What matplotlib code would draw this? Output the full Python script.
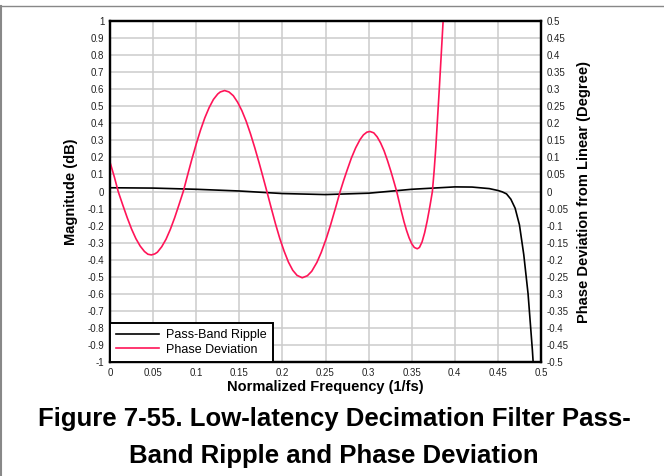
import numpy as np
import matplotlib
matplotlib.use("Agg")
import matplotlib.pyplot as plt
from matplotlib.lines import Line2D

plt.rcParams['font.family'] = ['Liberation Sans', 'DejaVu Sans']

# pass-band ripple (dB)
mag_freq = [0.0, 0.05, 0.1, 0.15, 0.2, 0.25, 0.3, 0.35, 0.4, 0.42, 0.44, 0.45,
            0.455, 0.46, 0.465, 0.47, 0.475, 0.48, 0.485, 0.49, 0.4915]
mag_db = [0.022, 0.02, 0.013, 0.003, -0.012, -0.018, -0.01, 0.013, 0.027, 0.026,
          0.017, 0.006, -0.002, -0.014, -0.045, -0.098, -0.196, -0.37, -0.6, -0.93, -1.05]

# phase deviation from linear (degree)
ph_freq = [0.0, 0.005, 0.0095, 0.015, 0.02, 0.025, 0.03, 0.035, 0.04, 0.044, 0.048,
           0.052, 0.055, 0.06, 0.065, 0.07, 0.075, 0.08, 0.085,
           0.09, 0.095, 0.1, 0.105, 0.11, 0.115, 0.12, 0.125, 0.128, 0.133,
           0.138, 0.143, 0.148, 0.153, 0.158, 0.163, 0.168, 0.173, 0.177, 0.182,
           0.187, 0.192, 0.197, 0.202, 0.207, 0.212, 0.217, 0.223,
           0.229, 0.234, 0.24, 0.245, 0.251, 0.256, 0.262, 0.267,
           0.271, 0.275, 0.28, 0.285, 0.29, 0.294, 0.298, 0.3016,
           0.306, 0.31, 0.314, 0.318, 0.322, 0.326, 0.329, 0.3326,
           0.335, 0.338, 0.341, 0.344, 0.347, 0.35, 0.353, 0.3565,
           0.359, 0.362, 0.365, 0.368, 0.371, 0.374,
           0.376, 0.378, 0.38, 0.382, 0.384, 0.386, 0.388, 0.39]
ph_deg = [0.086, 0.043, 0.0, -0.041, -0.077, -0.11, -0.138, -0.16, -0.176, -0.184, -0.186,
          -0.183, -0.178, -0.162, -0.14, -0.111, -0.077, -0.039, 0.0,
          0.048, 0.095, 0.139, 0.18, 0.216, 0.246, 0.27, 0.286, 0.292, 0.296,
          0.292, 0.281, 0.262, 0.237, 0.206, 0.169, 0.128, 0.084, 0.047, 0.0,
          -0.048, -0.095, -0.138, -0.175, -0.207, -0.231, -0.246, -0.253,
          -0.247, -0.234, -0.208, -0.179, -0.137, -0.097, -0.045, 0.0,
          0.032, 0.062, 0.098, 0.128, 0.152, 0.166, 0.174, 0.176,
          0.172, 0.16, 0.142, 0.119, 0.09, 0.058, 0.032, 0.0,
          -0.026, -0.058, -0.088, -0.114, -0.136, -0.153, -0.164, -0.168,
          -0.164, -0.148, -0.121, -0.086, -0.045, 0.0,
          0.06, 0.13, 0.215, 0.3, 0.39, 0.48, 0.57, 0.66]

x_ticks = [0, 0.05, 0.1, 0.15, 0.2, 0.25, 0.3, 0.35, 0.4, 0.45, 0.5]
x_labels = ['0', '0.05', '0.1', '0.15', '0.2', '0.25', '0.3', '0.35', '0.4', '0.45', '0.5']
left_ticks = [1, 0.9, 0.8, 0.7, 0.6, 0.5, 0.4, 0.3, 0.2, 0.1, 0,
              -0.1, -0.2, -0.3, -0.4, -0.5, -0.6, -0.7, -0.8, -0.9, -1]
left_labels = ['1', '0.9', '0.8', '0.7', '0.6', '0.5', '0.4', '0.3', '0.2', '0.1', '0',
               '-0.1', '-0.2', '-0.3', '-0.4', '-0.5', '-0.6', '-0.7', '-0.8', '-0.9', '-1']
right_ticks = [0.5, 0.45, 0.4, 0.35, 0.3, 0.25, 0.2, 0.15, 0.1, 0.05, 0,
               -0.05, -0.1, -0.15, -0.2, -0.25, -0.3, -0.35, -0.4, -0.45, -0.5]
right_labels = ['0.5', '0.45', '0.4', '0.35', '0.3', '0.25', '0.2', '0.15', '0.1', '0.05', '0',
                '-0.05', '-0.1', '-0.15', '-0.2', '-0.25', '-0.3', '-0.35', '-0.4', '-0.45', '-0.5']

pink = "#ff1458"

fig = plt.figure(figsize=(6.64, 4.76), dpi=100)
ax = fig.add_axes([110 / 664, 1 - 362 / 476, 431 / 664, 341 / 476])
ax2 = ax.twinx()

ax.set_xlim(0, 0.5)
ax.set_ylim(-1, 1)
ax2.set_ylim(-0.5, 0.5)

ax.set_xticks(x_ticks)
ax.set_xticklabels(x_labels)
ax.set_yticks(left_ticks)
ax.set_yticklabels(left_labels)
ax2.set_yticks(right_ticks)
ax2.set_yticklabels(right_labels)

ax.grid(True, color="#cccccc", lw=1.1)
ax.set_axisbelow(True)
for a in (ax, ax2):
    a.tick_params(length=0, labelsize=7, pad=4, colors="#222222")
    for s in a.spines.values():
        s.set_linewidth(1.6)
        s.set_color("black")

l1, = ax.plot(mag_freq, mag_db, color="black", lw=1.2, label="Pass-Band Ripple")
l2, = ax2.plot(ph_freq, ph_deg, color=pink, lw=1.2, label="Phase Deviation")
ax2.set_zorder(ax.get_zorder() + 1)

ax.set_xlabel("Normalized Frequency (1/fs)", fontsize=10.5, fontweight="bold", labelpad=2)
ax.set_ylabel("Magnitude (dB)", fontsize=10.5, fontweight="bold", labelpad=7)
ax2.set_ylabel("Phase Deviation from Linear (Degree)", fontsize=10.5, fontweight="bold", labelpad=6)

leg = ax2.legend(handles=[l1, l2], loc="lower left", fontsize=9, frameon=True,
                 fancybox=False, borderaxespad=0, handlelength=3.4,
                 borderpad=0.5, labelspacing=0.22, handletextpad=0.6)
leg.get_frame().set_edgecolor("black")
leg.get_frame().set_linewidth(1.4)
leg.get_frame().set_alpha(1)

fig.text(334 / 664, 1 - 426 / 476, "Figure 7-55. Low-latency Decimation Filter Pass-",
         ha="center", va="baseline", fontsize=18.5, fontweight="bold")
fig.text(334 / 664, 1 - 463 / 476, "Band Ripple and Phase Deviation",
         ha="center", va="baseline", fontsize=18.5, fontweight="bold")

# thin gray frame at top and left
fig.add_artist(Line2D([0, 1], [1 - 6 / 476, 1 - 6 / 476], color="#888888", lw=1))
fig.add_artist(Line2D([0.001, 0.001], [0, 1 - 6 / 476], color="#888888", lw=1.5))

fig.savefig("out.png", dpi=100)
